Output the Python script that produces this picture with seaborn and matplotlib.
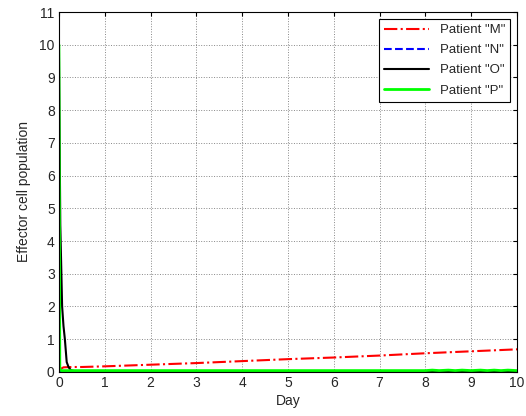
import pandas as pd
import numpy as np
import seaborn as sns
import matplotlib.pyplot as plt

# values
day_m = [0, 0.05, 0.1, 0.3, 0.5, 1, 2, 3, 4, 5, 6, 7, 8, 9, 10]
pop_m = [0.05, 0.10, 0.14, 0.15, 0.15, 0.17, 0.22, 0.27, 0.33, 0.39, 0.44, 0.50, 0.57, 0.63, 0.69]

day_n = [0, 0.05, 10]
pop_n = [0.02, 0.01, 0.01]

day_o = [0, 0.03, 0.07, 0.1, 0.13, 0.17, 0.21, 0.26, 0.35, 0.5, 10]
pop_o = [10, 4.5, 2.0, 1.4, 1.0, 0.3, 0.15, 0.05, 0.02, 0.01, 0.01]

day_p = [0, 0.02, 0.05, 8.0, 8.15, 8.3, 8.5, 8.65, 8.8, 9.0, 9.2, 9.35, 9.5, 9.65, 9.8, 10]
pop_p = [10, 0.1, 0.04, 0.04, 0.055, 0.04, 0.055, 0.04, 0.055, 0.04, 0.055, 0.04, 0.055, 0.04, 0.055, 0.04]

labels = ['Patient "M"', 'Patient "N"', 'Patient "O"', 'Patient "P"']

sns.set_style("white")
plt.rcParams['font.family'] = ['Liberation Sans', 'DejaVu Sans']

fig = plt.figure(figsize=(5.26, 4.16), dpi=100)
ax = fig.add_axes([0.112, 0.106, 0.871, 0.865])

sns.lineplot(x=day_m, y=pop_m, ax=ax, color="red", linestyle="-.", linewidth=1.5, label=labels[0])
sns.lineplot(x=day_n, y=pop_n, ax=ax, color="blue", linestyle="--", linewidth=1.5, label=labels[1])
sns.lineplot(x=day_o, y=pop_o, ax=ax, color="black", linestyle="-", linewidth=1.5, label=labels[2])
sns.lineplot(x=day_p, y=pop_p, ax=ax, color="#00ff00", linestyle="-", linewidth=2, label=labels[3])

ax.set_xlim(0, 10)
ax.set_ylim(0, 11)
ax.set_xticks(range(0, 11))
ax.set_yticks(range(0, 12))
ax.grid(True, color="#555555", linestyle=":", linewidth=0.7, alpha=0.7)
ax.tick_params(direction="in", length=3, labelsize=10, top=True, right=True,
               labeltop=False, labelright=False, color="black", pad=3)
for s in ax.spines.values():
    s.set_color("black")
    s.set_linewidth(0.8)

ax.set_xlabel("Day", fontsize=10, labelpad=3)
ax.set_ylabel("Effector cell population", fontsize=10, labelpad=6)

leg = ax.legend(loc="upper right", fontsize=9.5, fancybox=False, framealpha=1,
                edgecolor="black", borderpad=0.4, handlelength=3.4, labelspacing=0.6,
                borderaxespad=0.5)
leg.get_frame().set_linewidth(0.8)

plt.savefig("out.png", dpi=100)
